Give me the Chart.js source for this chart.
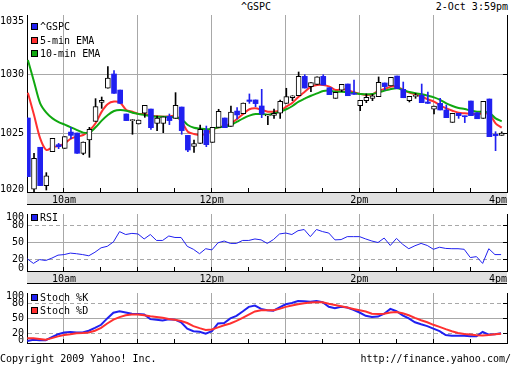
<!DOCTYPE html>
<html><head><meta charset="utf-8">
<script src="https://cdn.jsdelivr.net/npm/chart.js@4.4.0/dist/chart.umd.min.js"></script>
<style>
html,body{margin:0;padding:0;background:#fff;}
#wrap{position:relative;width:512px;height:365px;overflow:hidden;background:#fff;font-family:"DejaVu Sans Mono",monospace;font-size:10px;color:#000;}
.t{position:absolute;white-space:pre;line-height:10px;}
.box{position:absolute;left:31px;width:5px;height:5px;border:1px solid #000;}
canvas{position:absolute;left:0;}
</style></head>
<body><div id="wrap">
<div class="t" style="left:0;width:512px;text-align:center;top:2px">^GSPC</div>
<div class="t" style="right:4px;top:2px">2-Oct 3:59pm</div>
<canvas id="cMain" width="512" height="205" style="top:0"></canvas>
<canvas id="cRsi" width="512" height="80" style="top:205px"></canvas>
<canvas id="cSto" width="512" height="68" style="top:284px"></canvas>
<div class="box" style="top:23px;background:#2020f0"></div><div class="t" style="left:40px;top:22px">^GSPC</div>
<div class="box" style="top:37px;background:#ff3030"></div><div class="t" style="left:40px;top:36px">5-min EMA</div>
<div class="box" style="top:50px;background:#10a810"></div><div class="t" style="left:40px;top:49px">10-min EMA</div>
<div class="box" style="top:214px;background:#2020f0"></div><div class="t" style="left:40px;top:213px">RSI</div>
<div class="box" style="top:294px;background:#2020f0"></div><div class="t" style="left:40px;top:293px">Stoch %K</div>
<div class="box" style="top:307px;background:#ff3030"></div><div class="t" style="left:40px;top:306px">Stoch %D</div>
<div class="t" style="left:0;top:354px">Copyright 2009 Yahoo! Inc.</div>
<div class="t" style="right:1px;top:354px">http://finance.yahoo.com/</div>
</div>
<script>
// ---- data (5-minute bars, 9:30 to 4pm) ----
const openP  = [1026.27,1020.23,1023.79,1020.54,1023.42,1024.01,1023.70,1025.08,1025.00,1023.28,
  1024.41,1025.99,1027.60,1028.79,1030.00,1028.64,1026.61,1026.05,1025.76,1026.67,
  1027.03,1025.82,1025.82,1026.41,1026.24,1027.20,1024.80,1023.87,1024.12,1025.23,
  1024.21,1025.48,1026.27,1025.56,1026.86,1026.64,1027.80,1027.80,1027.29,1026.45,
  1026.50,1026.67,1027.51,1028.00,1028.16,1029.80,1028.93,1029.12,1029.80,1028.84,
  1027.94,1028.64,1029.15,1028.36,1027.32,1027.74,1027.94,1028.08,1029.24,1028.98,
  1029.83,1028.70,1027.74,1028.10,1028.19,1027.63,1027.01,1027.51,1026.95,1025.90,
  1026.67,1026.44,1027.71,1026.72,1026.24,1027.88,1024.89,1024.80];
const highP  = [1026.27,1023.28,1023.79,1021.64,1024.55,1024.12,1024.69,1025.48,1025.00,1024.24,
  1025.48,1027.91,1028.05,1030.62,1030.28,1028.64,1026.61,1026.15,1026.10,1027.34,
  1027.03,1026.44,1026.36,1026.61,1028.42,1027.20,1024.80,1024.41,1025.68,1025.59,
  1025.48,1027.01,1026.27,1027.29,1027.15,1027.54,1028.31,1027.80,1028.70,1026.55,
  1027.03,1027.80,1028.79,1028.16,1030.17,1029.94,1029.27,1029.77,1029.94,1028.84,
  1028.45,1029.12,1029.15,1029.49,1027.77,1028.31,1028.28,1029.75,1029.24,1029.72,
  1029.83,1029.32,1028.11,1028.36,1029.15,1028.47,1027.29,1027.94,1027.37,1026.67,
  1026.67,1026.44,1027.71,1026.72,1027.68,1027.88,1025.11,1025.10];
const lowP   = [1021.30,1020.03,1020.54,1020.17,1023.42,1023.67,1023.70,1024.52,1023.28,1023.16,
  1022.94,1025.99,1027.09,1028.79,1028.36,1027.51,1026.05,1024.89,1025.76,1026.33,
  1025.31,1025.20,1025.03,1025.71,1026.24,1024.89,1023.42,1023.36,1024.12,1023.84,
  1024.21,1025.48,1025.45,1025.56,1026.19,1026.64,1027.51,1027.23,1026.30,1025.71,
  1026.24,1026.24,1027.51,1027.74,1028.16,1028.81,1028.50,1029.12,1029.07,1028.25,
  1027.94,1028.50,1028.16,1028.28,1026.89,1027.57,1027.74,1028.08,1028.64,1028.98,
  1028.76,1027.99,1027.63,1027.94,1027.57,1027.51,1026.61,1026.95,1026.30,1025.90,
  1026.24,1025.88,1026.47,1026.21,1026.24,1024.69,1023.50,1024.80];
const closeP = [1021.30,1022.85,1020.54,1021.36,1024.55,1023.84,1024.69,1024.80,1023.28,1024.24,
  1025.31,1027.23,1027.77,1029.66,1028.36,1027.51,1026.05,1026.12,1026.10,1027.34,
  1025.45,1026.27,1026.36,1026.05,1027.34,1025.20,1023.56,1024.10,1025.31,1024.01,
  1025.48,1026.84,1025.45,1026.78,1026.53,1027.54,1027.68,1027.49,1026.61,1026.50,
  1026.67,1027.68,1028.08,1028.16,1029.80,1028.81,1029.27,1029.77,1029.07,1028.25,
  1028.45,1029.12,1028.16,1028.28,1027.77,1028.02,1028.14,1029.29,1028.93,1029.72,
  1028.76,1027.99,1028.11,1028.14,1027.57,1027.51,1027.29,1026.95,1026.30,1026.67,
  1026.47,1026.38,1026.47,1026.21,1027.68,1024.69,1024.77,1025.00];
const ema5  = [1028.42,1026.53,1024.55,1023.56,1023.79,1023.90,1024.12,1024.52,1024.69,1024.83,
  1025.20,1025.82,1026.81,1027.46,1027.66,1027.57,1026.95,1026.81,1026.61,1026.61,
  1026.47,1026.41,1026.38,1026.41,1026.44,1025.96,1025.11,1024.92,1024.83,1024.92,
  1025.31,1025.48,1025.59,1025.82,1026.19,1026.61,1027.01,1027.09,1026.95,1026.81,
  1026.81,1026.89,1027.23,1027.57,1028.08,1028.50,1028.93,1029.07,1029.07,1028.93,
  1028.64,1028.70,1028.64,1028.45,1028.31,1028.22,1028.28,1028.59,1028.73,1028.93,
  1028.93,1028.64,1028.42,1028.28,1028.08,1027.85,1027.66,1027.34,1027.09,1026.89,
  1026.72,1026.67,1026.61,1026.61,1026.67,1026.61,1025.82,1025.45];
const ema10 = [1031.19,1029.35,1027.51,1026.72,1026.24,1025.93,1025.71,1025.48,1025.25,1025.03,
  1025.03,1025.48,1026.05,1026.53,1026.86,1026.95,1026.89,1026.72,1026.61,1026.53,
  1026.41,1026.38,1026.38,1026.36,1026.33,1026.16,1025.68,1025.45,1025.37,1025.31,
  1025.37,1025.48,1025.54,1025.68,1025.96,1026.24,1026.47,1026.61,1026.61,1026.55,
  1026.67,1026.81,1027.01,1027.29,1027.66,1027.91,1028.16,1028.36,1028.56,1028.59,
  1028.50,1028.50,1028.45,1028.36,1028.31,1028.28,1028.31,1028.45,1028.59,1028.73,
  1028.79,1028.64,1028.47,1028.36,1028.28,1028.16,1028.02,1027.80,1027.51,1027.29,
  1027.12,1027.03,1026.89,1026.81,1026.81,1026.72,1026.24,1025.99];
const rsi = [21.5,13.3,20,18.4,22.6,27.8,28.8,31.4,30.3,28.8,
  26.7,32.9,40.7,43.3,51,69.1,64,66,65,56.2,
  64,53.6,53.6,61.4,58.8,58.8,43.3,38.1,30.3,39.1,
  37,49.5,52.6,48.4,48.4,53.6,53.6,56.2,54.6,48.4,
  55.1,65,66.6,64,70.7,72.8,60.3,72.8,69.1,66.6,
  54.6,55.1,60.3,60.3,60.3,56.2,52.6,50,57.8,44.8,
  57.2,46.9,39.1,44.3,48.4,44.8,38.1,41.7,39.6,39.1,
  39.1,38.1,23.6,25.2,13.3,39.1,28.8,28.8];
const stochK = [4.1,6.7,5.6,5.6,11.8,17.4,21,22,21,21,
  24.6,30.3,36.4,49.2,60.5,63.6,61,58.5,57.9,56.9,
  47.7,46.7,45.1,47.7,46.7,41.5,28.7,23.6,22.6,18.5,
  23.6,39,40,49.2,54.4,63.1,72.3,74.9,68.2,65.6,
  64.6,71.3,77.4,80,84.1,83.6,82.6,84.1,81.5,72.3,
  69.7,72.3,70.8,66.2,61,54.4,51.8,52.8,58.5,68.2,
  63.6,55.4,49.2,41.5,37.4,33.8,28.7,23.6,15.9,14.4,
  14.4,14.4,13.3,13.3,22,16.9,17.4,19.5];
const stochD = [9.7,9.7,8.2,6.7,9.7,13.3,15.9,17.4,19.5,20,
  21,24.6,30.3,39,46.7,51.8,55.4,56.9,56.9,55.4,
  53.3,51.8,50.3,48.2,46.7,44.1,40,33.8,29.7,26.2,
  27.2,31.3,35.4,39,44.1,50.3,56.9,63.1,65.6,65.6,
  65.6,68.2,72.3,74.9,77.4,79.5,81,81.5,81.5,78.5,
  75.9,73.3,70.8,68.2,65.6,63.1,58.5,57.9,58.5,61,
  62.1,59.5,55.4,50.3,45.6,41.5,36.4,32.3,27.7,23.6,
  20,18,16.9,15.4,14.9,15.9,17.4,18.5];
const tickMinutes = [0,30,60,90,120,150,180,210,240,270,300,330,360,390];
const labelMinutes = [30,150,270,390];
const timeLabels = ['10am','12pm','2pm','4pm'];
const priceTicks = [1020,1025,1030,1035];
const oscTicks = [0,20,50,80,100];

// ---- styling ----
const FONT = {family:"'DejaVu Sans Mono', monospace", size:10};
const BLUE='#2020f0', RED='#ff3030', GREEN='#10a810', GRID='#a8a8a8', CLEAR='rgba(0,0,0,0)', BAND='#e0e0e0';
const barX = k => 5*k + 0.7;
const lineX = k => 5*k + 0.2;
const align = p => Math.round(p - 0.5) + 0.5;

const bandPlugin = {
  id:'band',
  beforeDraw(chart, args, opts){
    if(!opts.h) return;
    const {ctx, chartArea:a} = chart;
    ctx.save();
    ctx.fillStyle = BAND;
    ctx.fillRect(a.left, a.bottom, a.right-a.left, opts.h);
    ctx.strokeStyle = '#000'; ctx.lineWidth = 1;
    ctx.beginPath(); ctx.moveTo(a.left, a.bottom+opts.h-0.5); ctx.lineTo(a.right, a.bottom+opts.h-0.5); ctx.stroke();
    ctx.restore();
  }
};
const inTicksPlugin = {
  id:'inTicks',
  afterDraw(chart, args, opts){
    const {ctx, chartArea:a, scales} = chart;
    ctx.save(); ctx.strokeStyle = '#000'; ctx.lineWidth = 1; ctx.beginPath();
    tickMinutes.forEach(v => {
      if (v <= 0 || v >= 390) return;
      const x = align(scales.x.getPixelForValue(v));
      ctx.moveTo(x, a.bottom); ctx.lineTo(x, a.bottom - 4);
    });
    (opts.yVals || []).forEach(v => {
      const y = align(scales.y.getPixelForValue(v));
      ctx.moveTo(a.right, y); ctx.lineTo(a.right - 4, y);
    });
    ctx.stroke(); ctx.restore();
  }
};

function xAxis(showLabels, h){
  return {
    type:'linear', min:0, max:390, offset:false,
    afterBuildTicks: s => { s.ticks = tickMinutes.map(v => ({value:v})); },
    ticks:{display:showLabels, autoSkip:false, maxRotation:0, align:'inner', padding:2, font:FONT, color:'#000',
      callback: v => { const i = labelMinutes.indexOf(v); return i >= 0 ? timeLabels[i] : ''; }},
    grid:{offset:false, drawTicks:false, lineWidth:1,
      color: c => (c.tick && c.tick.value > 0 && c.tick.value < 390 && (c.tick.value - 30) % 60 === 0) ? GRID : CLEAR},
    border:{color:'#000', width:1},
    afterFit: s => { s.height = h; }
  };
}
function rightAxis(min, max){
  return {position:'right', min, max, ticks:{display:false}, grid:{drawOnChartArea:false, drawTicks:false},
    border:{color:'#000', width:1}, afterFit: s => { s.width = 0; }};
}
// top label pushed down, bottom label pushed up (as in the original), via a blank label line
function leftAxis(min, max, tickVals, solidVals, dashVals, topLH, botLH){
  return {
    type:'linear', min, max, beginAtZero:false,
    afterBuildTicks: s => { s.ticks = tickVals.map(v => ({value:v})); },
    ticks:{color:'#000', padding:3, autoSkip:false,
      font: c => {
        const v = c.tick && c.tick.value;
        const lh = v === max ? topLH : (v === min ? botLH : 1.2);
        return {family:FONT.family, size:10, lineHeight:lh};
      },
      callback: v => v === max ? ['', String(v)] : (v === min ? [String(v), ''] : String(v))},
    grid:{drawTicks:false, color: c => (c.tick && (solidVals.includes(c.tick.value) || dashVals.includes(c.tick.value))) ? GRID : CLEAR},
    border:{color:'#000', width:1, dash: c => (c.tick && dashVals.includes(c.tick.value)) ? [4,3] : []},
    afterFit: s => { s.width = 27; }
  };
}
const common = {responsive:false, animation:false, devicePixelRatio:1, events:[]};
const basePlugins = {legend:{display:false}, tooltip:{enabled:false}};

const up = closeP.map((c,i) => c >= openP[i]);

new Chart(document.getElementById('cMain'), {
  type:'bar',
  data:{datasets:[
    {type:'bar', order:1, grouped:false, barThickness:5, minBarLength:1, borderSkipped:false,
      data: openP.map((o,i) => ({x:barX(i), y:[o, closeP[i]]})),
      backgroundColor: up.map(u => u ? '#fff' : BLUE), borderColor: up.map(u => u ? '#000' : BLUE),
      borderWidth: up.map(u => u ? 1 : 0)},
    {type:'bar', order:2, grouped:false, barThickness:1, borderWidth:0,
      data: lowP.map((l,i) => ({x:barX(i), y:[l, highP[i]]})),
      backgroundColor: up.map(u => u ? '#000' : BLUE)},
    {type:'line', order:3, data: ema10.map((v,i)=>({x:barX(i), y:v})), borderColor:GREEN, borderWidth:2, pointRadius:0, tension:0.3},
    {type:'line', order:4, data: ema5.map((v,i)=>({x:barX(i), y:v})), borderColor:RED, borderWidth:2, pointRadius:0, tension:0.3}
  ]},
  options:Object.assign({}, common, {
    layout:{padding:{top:15, right:5, left:0, bottom:0}},
    plugins:Object.assign({}, basePlugins, {band:{h:13}, inTicks:{yVals:[1025,1030]}}),
    scales:{
      x: xAxis(true, 13),
      y: leftAxis(1020, 1035, priceTicks, [1025,1030], [], 1.2, 0.6),
      y2: rightAxis(1020, 1035)
    }
  }),
  plugins:[bandPlugin, inTicksPlugin]
});

new Chart(document.getElementById('cRsi'), {
  type:'line',
  data:{datasets:[{data: rsi.map((v,i)=>({x:lineX(i), y:v})), borderColor:BLUE, borderWidth:1, pointRadius:0, tension:0}]},
  options:Object.assign({}, common, {
    layout:{padding:{top:2, right:5, left:0, bottom:1}},
    plugins:Object.assign({}, basePlugins, {band:{h:13}, inTicks:{yVals:[20,50,80]}}),
    scales:{x: xAxis(true, 13), y: leftAxis(0, 100, oscTicks, [50], [20,80], 0.6, 0.6), y2: rightAxis(0, 100)}
  }),
  plugins:[bandPlugin, inTicksPlugin]
});

new Chart(document.getElementById('cSto'), {
  type:'line',
  data:{datasets:[
    {data: stochD.map((v,i)=>({x:lineX(i), y:v})), borderColor:RED, borderWidth:2, pointRadius:0, tension:0},
    {data: stochK.map((v,i)=>({x:lineX(i), y:v})), borderColor:BLUE, borderWidth:2, pointRadius:0, tension:0}
  ]},
  options:Object.assign({}, common, {
    layout:{padding:{top:1, right:5, left:0, bottom:0}},
    plugins:Object.assign({}, basePlugins, {inTicks:{yVals:[20,50,80]}}),
    scales:{x: xAxis(false, 2), y: leftAxis(0, 100, oscTicks, [50], [20,80], 0.6, 0.6), y2: rightAxis(0, 100)}
  }),
  plugins:[inTicksPlugin]
});
</script>
</body></html>
